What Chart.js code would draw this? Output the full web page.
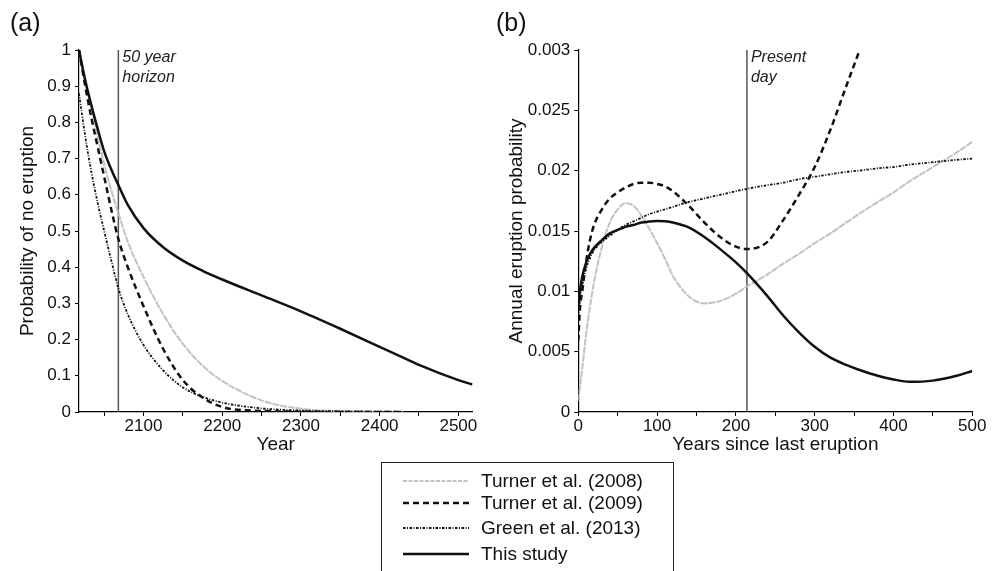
<!DOCTYPE html>
<html>
<head>
<meta charset="utf-8">
<script src="https://cdn.jsdelivr.net/npm/chart.js@4.4.1/dist/chart.umd.min.js"></script>
<style>
  body { margin: 0; background: #fff; font-family: 'Liberation Sans', Arial, sans-serif; }
  #wrap { position: relative; width: 998px; height: 571px; overflow: hidden; }
  canvas { position: absolute; top: 0; }
  .panel { position: absolute; font-size: 25px; line-height: 25px; color: #111; }
  #legend { position: absolute; left: 381px; top: 462px; width: 291px; height: 130px; border: 1.3px solid #222; }
  .row { position: absolute; left: 0; height: 24px; width: 290px; }
  .row svg { position: absolute; left: 21px; top: 7px; }
  .row span { position: absolute; left: 99px; top: 0; font-size: 19px; line-height: 24px; color: #111; white-space: nowrap; }
</style>
</head>
<body>
<div id="wrap">
  <canvas id="chartA" width="495" height="470" style="left:0"></canvas>
  <canvas id="chartB" width="503" height="470" style="left:495px"></canvas>
  <div class="panel" style="left:10px; top:10px">(a)</div>
  <div class="panel" style="left:496px; top:10px">(b)</div>
  <div id="legend"></div>
</div>
<script>
// names and styles of the four models
const seriesNames = ['Turner et al. (2008)', 'Turner et al. (2009)', 'Green et al. (2013)', 'This study'];

// (a) probability of no eruption vs year
const yearsA = [2018, 2026, 2034, 2042, 2050, 2060, 2068, 2080, 2100, 2125, 2150, 2175, 2200, 2250, 2300, 2350, 2400, 2430, 2450, 2500, 2518];
const turner2008A = [1.0, 0.92, 0.84, 0.76, 0.685, 0.605, 0.55, 0.47, 0.373, 0.27, 0.188, 0.128, 0.086, 0.032, 0.009, 0.002, 0.0005, 0, null, null, null];
const turner2009A = [1.0, 0.90, 0.81, 0.73, 0.65, 0.55, 0.478, 0.40, 0.292, 0.174, 0.088, 0.04, 0.014, 0.003, 0.001, 0, 0, 0, null, null, null];
const green2013A = [0.88, 0.76, 0.66, 0.575, 0.5, 0.41, 0.342, 0.27, 0.185, 0.115, 0.068, 0.042, 0.026, 0.01, 0.004, 0.002, 0.001, 0.0005, null, null, null];
const thisStudyA = [1.0, 0.915, 0.845, 0.78, 0.72, 0.665, 0.627, 0.572, 0.508, 0.455, 0.418, 0.39, 0.366, 0.322, 0.278, 0.23, 0.18, 0.15, 0.13, 0.088, 0.076];
const xTicksA = [2050, 2100, 2150, 2200, 2250, 2300, 2350, 2400, 2450, 2500];
const yTickLabelsA = ['0', '0.1', '0.2', '0.3', '0.4', '0.5', '0.6', '0.7', '0.8', '0.9', '1'];

// (b) annual eruption probability vs years since last eruption
const yearsB = [0, 2, 5, 10, 15, 20, 30, 40, 50, 60, 70, 80, 90, 100, 110, 120, 140, 160, 180, 200, 214, 240, 260, 280, 300, 320, 340, 356, 380, 400, 420, 450, 480, 500];
const turner2008B = [0.0009, 0.002, 0.0036, 0.0065, 0.0088, 0.0108, 0.0137, 0.0157, 0.0168, 0.0173, 0.0171, 0.0163, 0.0152, 0.014, 0.0127, 0.0113, 0.0096, 0.009, 0.0092, 0.0098, 0.0104, 0.0114, 0.0123, 0.0131, 0.014, 0.0148, 0.0157, 0.0164, 0.0174, 0.0182, 0.0191, 0.0203, 0.0215, 0.0224];
const turner2009B = [0.0059, 0.0085, 0.01, 0.0125, 0.0143, 0.0155, 0.0168, 0.0177, 0.0182, 0.0186, 0.0189, 0.019, 0.019, 0.0189, 0.0187, 0.0183, 0.0171, 0.0157, 0.0145, 0.0137, 0.0135, 0.0141, 0.0159, 0.018, 0.0203, 0.0234, 0.027, 0.0298, null, null, null, null, null, null];
const green2013B = [0.0079, 0.0092, 0.0105, 0.0119, 0.0128, 0.0134, 0.0141, 0.0146, 0.0151, 0.0155, 0.0158, 0.0161, 0.0164, 0.0166, 0.0168, 0.017, 0.0174, 0.0177, 0.018, 0.0183, 0.0185, 0.0188, 0.019, 0.0193, 0.0195, 0.0197, 0.0199, 0.02, 0.0202, 0.0203, 0.0205, 0.0207, 0.0209, 0.021];
const thisStudyB = [0.0087, 0.01, 0.0112, 0.0124, 0.0131, 0.0136, 0.01425, 0.0148, 0.0151, 0.01535, 0.0155, 0.0157, 0.01578, 0.01582, 0.0158, 0.0157, 0.0153, 0.0145, 0.0135, 0.0124, 0.0115, 0.0096, 0.0080, 0.0066, 0.0054, 0.0045, 0.0039, 0.0035, 0.003, 0.0027, 0.0025, 0.0026, 0.003, 0.0034];
const xTicksB = [0, 50, 100, 150, 200, 250, 300, 350, 400, 450, 500];
const yTickLabelsB = ['0', '0.005', '0.01', '0.015', '0.02', '0.025', '0.003'];

const styles = [
  { color: '#c2c2c2', width: 2, dash: [7, 1] },
  { color: '#111', width: 2.5, dash: [6, 4] },
  { color: '#111', width: 1.8, dash: [2.5, 1.5, 1, 1.5] },
  { color: '#111', width: 2.5, dash: [] }
];
const legendDash = [[4, 1.5], [6, 4], [2.5, 1.5, 1, 1.5], []];
const drawOrder = [3, 1, 2, 0];

const FONT = "'Liberation Sans', Arial, sans-serif";
Chart.defaults.font.family = FONT;
Chart.defaults.color = '#111';

function makeSets(xs, seriesList) {
  return seriesList.map((vals, i) => ({
    label: seriesNames[i],
    data: xs.map((x, j) => ({ x: x, y: vals[j] })),
    borderColor: styles[i].color,
    borderWidth: styles[i].width,
    borderDash: styles[i].dash,
    pointRadius: 0,
    cubicInterpolationMode: 'monotone',
    spanGaps: false,
    order: drawOrder[i]
  }));
}

const markerPlugin = {
  id: 'marker',
  beforeDatasetsDraw(chart, args, opts) {
    const { ctx, chartArea, scales } = chart;
    const x = scales.x.getPixelForValue(opts.value);
    ctx.save();
    ctx.strokeStyle = '#555';
    ctx.lineWidth = 1.5;
    ctx.beginPath();
    ctx.moveTo(x, chartArea.top);
    ctx.lineTo(x, chartArea.bottom);
    ctx.stroke();
    ctx.fillStyle = '#222';
    ctx.font = 'italic 16px ' + FONT;
    ctx.textBaseline = 'middle';
    opts.lines.forEach((t, i) => ctx.fillText(t, x + 4, chartArea.top + 8 + i * 20));
    ctx.restore();
  }
};

function makeOptions(o) {
  return {
    responsive: false,
    animation: false,
    layout: { padding: { top: 50, right: o.padRight, left: 0, bottom: 0 } },
    plugins: {
      legend: { display: false },
      tooltip: { enabled: false },
      marker: { value: o.markerAt, lines: o.markerText }
    },
    scales: {
      x: {
        type: 'linear',
        min: o.xMin,
        max: o.xMax,
        afterBuildTicks: s => { s.ticks = o.xTicks.map(v => ({ value: v })); },
        afterFit: s => { s.height = 58; },
        border: { color: '#000', width: 1.2 },
        grid: { drawOnChartArea: false, tickLength: 4, color: '#000' },
        ticks: {
          autoSkip: false, maxRotation: 0, padding: 0,
          font: { size: 17 },
          callback: v => (v % 100 === 0 ? String(v) : '')
        },
        title: { display: true, text: o.xTitle, font: { size: 19 }, padding: { top: 0, bottom: 13.6 } }
      },
      y: {
        min: 0,
        max: o.yMax,
        afterBuildTicks: s => { s.ticks = o.yLabels.map((t, i) => ({ value: i * o.yStep })); },
        afterFit: s => { s.width = o.yWidth; },
        border: { color: '#000', width: 1.2 },
        grid: { drawOnChartArea: false, tickLength: 4, color: '#000' },
        ticks: { padding: 4, font: { size: 17 }, callback: (v, i) => o.yLabels[i] },
        title: { display: true, text: o.yTitle, font: { size: 19 }, padding: { top: o.yTitlePad, bottom: 0 } }
      }
    }
  };
}

new Chart(document.getElementById('chartA'), {
  type: 'line',
  data: { datasets: makeSets(yearsA, [turner2008A, turner2009A, green2013A, thisStudyA]) },
  options: makeOptions({
    padRight: 22.5, xMin: 2018, xMax: 2518, xTicks: xTicksA, xTitle: 'Year',
    yMax: 1, yStep: 0.1, yLabels: yTickLabelsA, yWidth: 79, yTitle: 'Probability of no eruption', yTitlePad: 16.6,
    markerAt: 2068, markerText: ['50 year', 'horizon']
  }),
  plugins: [markerPlugin]
});

new Chart(document.getElementById('chartB'), {
  type: 'line',
  data: { datasets: makeSets(yearsB, [turner2008B, turner2009B, green2013B, thisStudyB]) },
  options: makeOptions({
    padRight: 25.7, xMin: 0, xMax: 500, xTicks: xTicksB, xTitle: 'Years since last eruption',
    yMax: 0.03, yStep: 0.005, yLabels: yTickLabelsB, yWidth: 83.3, yTitle: 'Annual eruption probability', yTitlePad: 10.6,
    markerAt: 214, markerText: ['Present', 'day']
  }),
  plugins: [markerPlugin]
});

// legend box below the two panels
const rowTops = [6, 28, 53, 79];
const legend = document.getElementById('legend');
seriesNames.forEach((name, i) => {
  const st = styles[i];
  const dash = legendDash[i];
  const row = document.createElement('div');
  row.className = 'row';
  row.style.top = rowTops[i] + 'px';
  row.innerHTML =
    '<svg width="66" height="10"><line x1="0" y1="5" x2="66" y2="5" stroke="' + st.color +
    '" stroke-width="' + st.width + '" stroke-dasharray="' + (dash.length ? dash.join(' ') : 'none') +
    '"/></svg><span>' + name + '</span>';
  legend.appendChild(row);
});
</script>
</body>
</html>
